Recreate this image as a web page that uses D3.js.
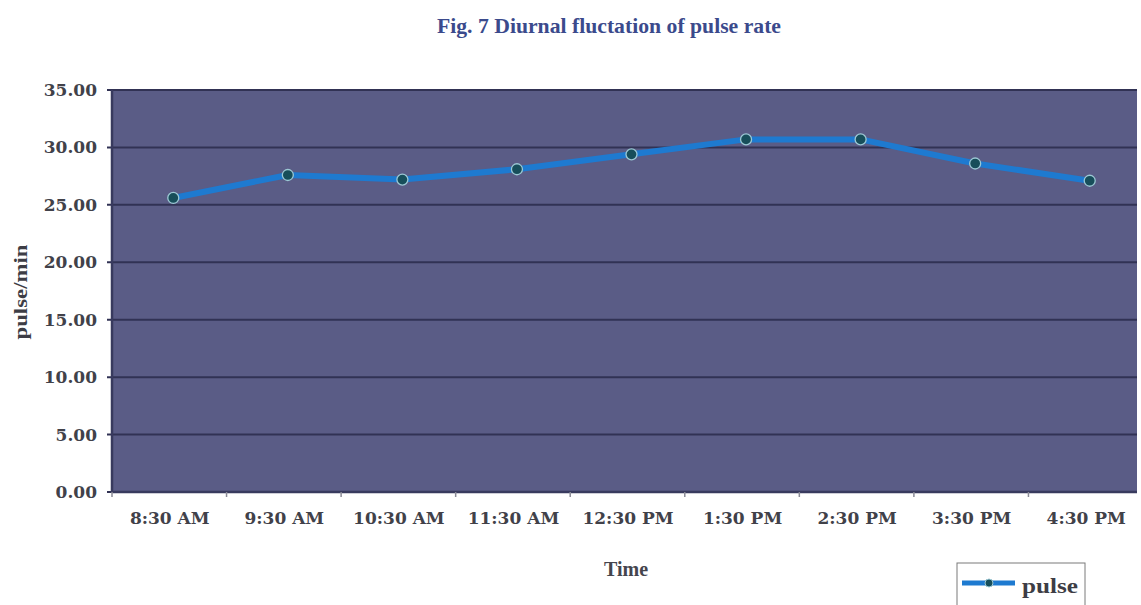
<!DOCTYPE html>
<html>
<head>
<meta charset="utf-8">
<script src="https://cdn.jsdelivr.net/npm/d3@7"></script>
<style>
  body { margin: 0; background: #ffffff; }
  text { font-family: "Liberation Serif", "DejaVu Serif", serif; font-weight: bold; }
</style>
</head>
<body>
<div id="chart"></div>
<script>
// data
var times = ["8:30 AM", "9:30 AM", "10:30 AM", "11:30 AM", "12:30 PM", "1:30 PM", "2:30 PM", "3:30 PM", "4:30 PM"];
var pulse = [25.6, 27.6, 27.2, 28.1, 29.4, 30.7, 30.7, 28.6, 27.1];
var yTicks = [0, 5, 10, 15, 20, 25, 30, 35];

var w = 1141;
var h = 605;
var plotL = 112, plotR = 1143, plotT = 90, plotB = 492;
var edgeR = 1137;

var svg = d3.select("#chart")
    .append("svg")
    .attr("width", w)
    .attr("height", h);

var x = d3.scaleBand()
    .domain(times)
    .range([plotL, plotR]);

var y = d3.scaleLinear()
    .domain([0, 35])
    .range([plotB, plotT]);

// plot area
svg.append("rect")
    .attr("x", plotL)
    .attr("y", plotT)
    .attr("width", edgeR - plotL)
    .attr("height", plotB - plotT)
    .attr("fill", "#5a5c86");

// gridlines
svg.selectAll("line.grid")
    .data(yTicks)
    .enter()
    .append("line")
    .attr("class", "grid")
    .attr("x1", plotL - 5)
    .attr("x2", edgeR)
    .attr("y1", function (d) { return y(d); })
    .attr("y2", function (d) { return y(d); })
    .attr("stroke", "#313254")
    .attr("stroke-width", 2);

// left axis line
svg.append("line")
    .attr("x1", plotL).attr("x2", plotL)
    .attr("y1", plotT).attr("y2", plotB)
    .attr("stroke", "#383a5e")
    .attr("stroke-width", 2.5);

// y axis labels
var yAxis = svg.append("g")
    .attr("transform", "translate(" + plotL + ",0)")
    .call(d3.axisLeft(y).tickValues(yTicks).tickFormat(d3.format(".2f")).tickSize(0).tickPadding(15));
yAxis.select(".domain").remove();
yAxis.selectAll("text")
    .attr("font-size", 17)
    .attr("fill", "#414149")
    .style("font-family", "'DejaVu Serif', serif")
    .style("font-weight", "bold");

// x axis: small tick marks at category boundaries
svg.append("line")
    .attr("x1", plotL).attr("x2", edgeR)
    .attr("y1", plotB).attr("y2", plotB)
    .attr("stroke", "#383a5e")
    .attr("stroke-width", 2.5);

svg.selectAll("line.xtick")
    .data(times)
    .enter()
    .append("line")
    .attr("class", "xtick")
    .attr("x1", function (d) { return x(d); })
    .attr("x2", function (d) { return x(d); })
    .attr("y1", plotB)
    .attr("y2", plotB + 5)
    .attr("stroke", "#8a8a96")
    .attr("stroke-width", 1.5);

var xAxis = svg.append("g")
    .attr("transform", "translate(" + (x.bandwidth() / 2) + "," + plotB + ")")
    .call(d3.axisBottom(d3.scalePoint().domain(times).range([plotL, plotR - x.bandwidth()])).tickSize(0).tickPadding(20));
xAxis.select(".domain").remove();
xAxis.selectAll("text")
    .attr("font-size", 17)
    .attr("fill", "#414149")
    .style("font-family", "'DejaVu Serif', serif")
    .style("font-weight", "bold");

// line
var line = d3.line()
    .x(function (d, i) { return x(times[i]) + x.bandwidth() / 2 + 4; })
    .y(function (d) { return y(d); });

svg.append("path")
    .datum(pulse)
    .attr("d", line)
    .attr("fill", "none")
    .attr("stroke", "#1e7ad0")
    .attr("stroke-width", 6)
    .attr("stroke-linejoin", "round");

svg.selectAll("circle.pt")
    .data(pulse)
    .enter()
    .append("circle")
    .attr("class", "pt")
    .attr("cx", function (d, i) { return x(times[i]) + x.bandwidth() / 2 + 4; })
    .attr("cy", function (d) { return y(d); })
    .attr("r", 5.5)
    .attr("fill", "#174e5a")
    .attr("stroke", "#9cc8d4")
    .attr("stroke-width", 1.3);

// title
svg.append("text")
    .attr("x", 609)
    .attr("y", 33)
    .attr("text-anchor", "middle")
    .attr("font-size", 22)
    .attr("textLength", 344)
    .attr("lengthAdjust", "spacingAndGlyphs")
    .attr("fill", "#3b4a8c")
    .text("Fig. 7 Diurnal fluctation of pulse rate");

// axis titles
svg.append("text")
    .attr("x", 626)
    .attr("y", 576)
    .attr("text-anchor", "middle")
    .attr("font-size", 20)
    .attr("fill", "#45454d")
    .text("Time");

svg.append("text")
    .attr("transform", "translate(27,292) rotate(-90)")
    .attr("text-anchor", "middle")
    .attr("font-size", 19)
    .attr("textLength", 95)
    .attr("lengthAdjust", "spacingAndGlyphs")
    .attr("fill", "#3d3d45")
    .text("pulse/min");

// legend
var lg = svg.append("g").attr("transform", "translate(957,563)");
lg.append("rect")
    .attr("width", 128)
    .attr("height", 45)
    .attr("fill", "#ffffff")
    .attr("stroke", "#7a7a7a")
    .attr("stroke-width", 1);
lg.append("line")
    .attr("x1", 5).attr("x2", 58)
    .attr("y1", 20).attr("y2", 20)
    .attr("stroke", "#1e7ad0")
    .attr("stroke-width", 5);
lg.append("circle")
    .attr("cx", 32).attr("cy", 20).attr("r", 4)
    .attr("fill", "#174e5a")
    .attr("stroke", "#9cc8d4")
    .attr("stroke-width", 1);
lg.append("text")
    .attr("x", 65)
    .attr("y", 30)
    .attr("font-size", 22)
    .attr("textLength", 56)
    .attr("lengthAdjust", "spacingAndGlyphs")
    .attr("fill", "#3d3d45")
    .text("pulse");
</script>
</body>
</html>
